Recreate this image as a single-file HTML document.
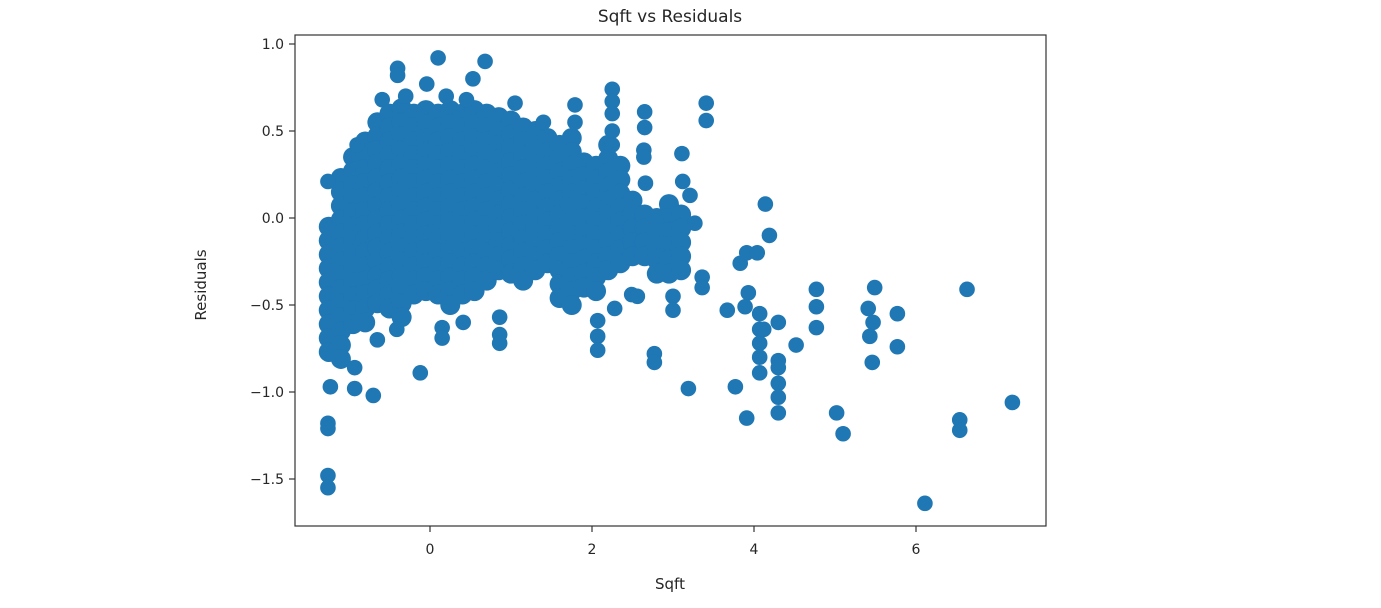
<!DOCTYPE html>
<html><head><meta charset="utf-8"><style>
html,body{margin:0;padding:0;background:#fff;}
svg text{font-family:"DejaVu Sans","Liberation Sans",sans-serif;fill:#262626;}
</style></head><body>
<svg id="chart" width="1381" height="603" viewBox="0 0 1381 603" xmlns="http://www.w3.org/2000/svg">
<text x="670" y="22" font-size="17" text-anchor="middle">Sqft vs Residuals</text>
<g id="marks"></g>
<rect x="295" y="35" width="751" height="491" fill="none" stroke="#333" stroke-width="1.2"/>
<g id="xticks"></g>
<g id="yticks"></g>
<text x="670" y="589" font-size="15" text-anchor="middle">Sqft</text>
<text transform="translate(206,285) rotate(-90)" font-size="15" text-anchor="middle">Residuals</text>
</svg>
<script>
const xTicks = [0, 2, 4, 6];
const yTicks = [1.0, 0.5, 0.0, -0.5, -1.0, -1.5];
const yTickLabels = ["1.0", "0.5", "0.0", "\u22120.5", "\u22121.0", "\u22121.5"];
const blobColumnsX = [-1.25,-1.1,-0.95,-0.8,-0.65,-0.5,-0.35,-0.2,-0.05,0.1,0.25,0.4,0.55,0.7,0.85,1.0,1.15,1.3,1.45,1.6,1.75,1.9,2.05,2.2,2.35,2.5,2.65,2.8,2.95,3.1];
const blobColumnsY = [
[-0.05,-0.13,-0.21,-0.29,-0.37,-0.45,-0.53,-0.61,-0.69,-0.77],
[0.23,0.15,0.07,-0.01,-0.09,-0.17,-0.25,-0.33,-0.41,-0.49,-0.57,-0.65,-0.73,-0.81],
[0.35,0.27,0.19,0.11,0.03,-0.05,-0.13,-0.21,-0.29,-0.37,-0.45,-0.53,-0.61],
[0.44,0.36,0.28,0.2,0.12,0.04,-0.04,-0.12,-0.2,-0.28,-0.36,-0.44,-0.52,-0.6],
[0.55,0.47,0.39,0.31,0.23,0.15,0.07,-0.01,-0.09,-0.17,-0.25,-0.33,-0.41,-0.49],
[0.6,0.52,0.44,0.36,0.28,0.2,0.12,0.04,-0.04,-0.12,-0.2,-0.28,-0.36,-0.44,-0.52],
[0.63,0.55,0.47,0.39,0.31,0.23,0.15,0.07,-0.01,-0.09,-0.17,-0.25,-0.33,-0.41,-0.49,-0.57],
[0.6,0.52,0.44,0.36,0.28,0.2,0.12,0.04,-0.04,-0.12,-0.2,-0.28,-0.36,-0.44],
[0.62,0.54,0.46,0.38,0.3,0.22,0.14,0.06,-0.02,-0.1,-0.18,-0.26,-0.34,-0.42],
[0.6,0.52,0.44,0.36,0.28,0.2,0.12,0.04,-0.04,-0.12,-0.2,-0.28,-0.36,-0.44],
[0.62,0.54,0.46,0.38,0.3,0.22,0.14,0.06,-0.02,-0.1,-0.18,-0.26,-0.34,-0.42,-0.5],
[0.6,0.52,0.44,0.36,0.28,0.2,0.12,0.04,-0.04,-0.12,-0.2,-0.28,-0.36,-0.44],
[0.62,0.54,0.46,0.38,0.3,0.22,0.14,0.06,-0.02,-0.1,-0.18,-0.26,-0.34,-0.42],
[0.6,0.52,0.44,0.36,0.28,0.2,0.12,0.04,-0.04,-0.12,-0.2,-0.28,-0.36],
[0.58,0.5,0.42,0.34,0.26,0.18,0.1,0.02,-0.06,-0.14,-0.22,-0.3],
[0.56,0.48,0.4,0.32,0.24,0.16,0.08,0,-0.08,-0.16,-0.24,-0.32],
[0.52,0.44,0.36,0.28,0.2,0.12,0.04,-0.04,-0.12,-0.2,-0.28,-0.36],
[0.5,0.42,0.34,0.26,0.18,0.1,0.02,-0.06,-0.14,-0.22,-0.3],
[0.46,0.38,0.3,0.22,0.14,0.06,-0.02,-0.1,-0.18,-0.26],
[0.42,0.34,0.26,0.18,0.1,0.02,-0.06,-0.14,-0.22,-0.3,-0.38,-0.46],
[0.46,0.38,0.3,0.22,0.14,0.06,-0.02,-0.1,-0.18,-0.26,-0.34,-0.42,-0.5],
[0.32,0.24,0.16,0.08,0,-0.08,-0.16,-0.24,-0.32,-0.4],
[0.3,0.22,0.14,0.06,-0.02,-0.1,-0.18,-0.26,-0.34,-0.42],
[0.42,0.34,0.26,0.18,0.1,0.02,-0.06,-0.14,-0.22,-0.3],
[0.3,0.22,0.14,0.06,-0.02,-0.1,-0.18,-0.26],
[0.1,0.02,-0.06,-0.14,-0.22],
[0.02,-0.06,-0.14,-0.22],
[0.0,-0.08,-0.16,-0.24,-0.32],
[0.08,0.0,-0.08,-0.16,-0.24,-0.32],
[0.02,-0.06,-0.14,-0.22,-0.3]
];
const outlierX = [2.25,2.25,2.25,2.25,2.25,1.79,1.79,2.65,2.65,2.64,2.64,2.66,3.41,3.41,3.11,3.12,3.21,3.27,4.14,4.19,3.83,3.91,4.04,3.93,3.89,4.07,4.07,4.07,4.07,4.07,4.30,4.12,4.30,4.30,4.30,4.30,4.30,3.67,3.77,3.91,4.52,4.77,4.77,4.77,5.49,5.41,5.47,5.43,5.46,5.77,5.77,6.63,5.02,5.10,6.54,6.54,7.19,6.11,3.19,2.77,2.77,2.07,2.07,2.07,2.28,2.49,3.0,3.0,3.36,3.36,2.56,0.10,0.68,0.53,-0.4,-0.4,-0.04,-0.59,-0.90,-1.26,-0.12,-0.70,-0.93,-0.93,-1.23,-1.26,-1.26,-1.26,-1.26,0.15,0.15,0.86,0.86,0.86,0.41,-0.41,-0.65,-0.3,0.2,0.45,1.05,1.4];
const outlierY = [0.74,0.67,0.6,0.5,0.42,0.65,0.55,0.61,0.52,0.39,0.35,0.20,0.66,0.56,0.37,0.21,0.13,-0.03,0.08,-0.10,-0.26,-0.2,-0.2,-0.43,-0.51,-0.55,-0.64,-0.72,-0.80,-0.89,-0.60,-0.64,-0.82,-0.86,-0.95,-1.03,-1.12,-0.53,-0.97,-1.15,-0.73,-0.41,-0.51,-0.63,-0.40,-0.52,-0.60,-0.68,-0.83,-0.55,-0.74,-0.41,-1.12,-1.24,-1.16,-1.22,-1.06,-1.64,-0.98,-0.78,-0.83,-0.59,-0.68,-0.76,-0.52,-0.44,-0.45,-0.53,-0.34,-0.40,-0.45,0.92,0.90,0.80,0.86,0.82,0.77,0.68,0.42,0.21,-0.89,-1.02,-0.98,-0.86,-0.97,-1.18,-1.21,-1.48,-1.55,-0.63,-0.69,-0.57,-0.67,-0.72,-0.6,-0.64,-0.70,0.7,0.7,0.68,0.66,0.55];

const NS = "http://www.w3.org/2000/svg";
const X0 = 430, XS = 81, Y0 = 218, YS = 174;
function sx(v){ return X0 + v * XS; }
function sy(v){ return Y0 - v * YS; }
const marks = document.getElementById('marks');
function dot(x, y, r){
  const c = document.createElementNS(NS, 'circle');
  c.setAttribute('cx', sx(x)); c.setAttribute('cy', sy(y)); c.setAttribute('r', r);
  c.setAttribute('fill', '#1f77b4');
  
  
  marks.appendChild(c);
}
blobColumnsX.forEach((x, i) => blobColumnsY[i].forEach(y => dot(x, y, 10)));
outlierX.forEach((x, i) => dot(x, outlierY[i], 7.8));

const xg = document.getElementById('xticks');
xTicks.forEach(t => {
  const l = document.createElementNS(NS, 'line');
  l.setAttribute('x1', sx(t)); l.setAttribute('x2', sx(t)); l.setAttribute('y1', 526); l.setAttribute('y2', 532);
  l.setAttribute('stroke', '#333'); l.setAttribute('stroke-width', '1.2');
  
  
  xg.appendChild(l);
  const tx = document.createElementNS(NS, 'text');
  tx.setAttribute('x', sx(t)); tx.setAttribute('y', 554); tx.setAttribute('font-size', '14'); tx.setAttribute('text-anchor', 'middle');
  tx.textContent = String(t);
  
  
  xg.appendChild(tx);
});
const yg = document.getElementById('yticks');
yTicks.forEach((t, i) => {
  const l = document.createElementNS(NS, 'line');
  l.setAttribute('x1', 289); l.setAttribute('x2', 295); l.setAttribute('y1', sy(t)); l.setAttribute('y2', sy(t));
  l.setAttribute('stroke', '#333'); l.setAttribute('stroke-width', '1.2');
  
  
  yg.appendChild(l);
  const tx = document.createElementNS(NS, 'text');
  tx.setAttribute('x', 284); tx.setAttribute('y', sy(t) + 5); tx.setAttribute('font-size', '14'); tx.setAttribute('text-anchor', 'end');
  tx.textContent = yTickLabels[i];
  
  
  yg.appendChild(tx);
});
</script>
</body></html>
